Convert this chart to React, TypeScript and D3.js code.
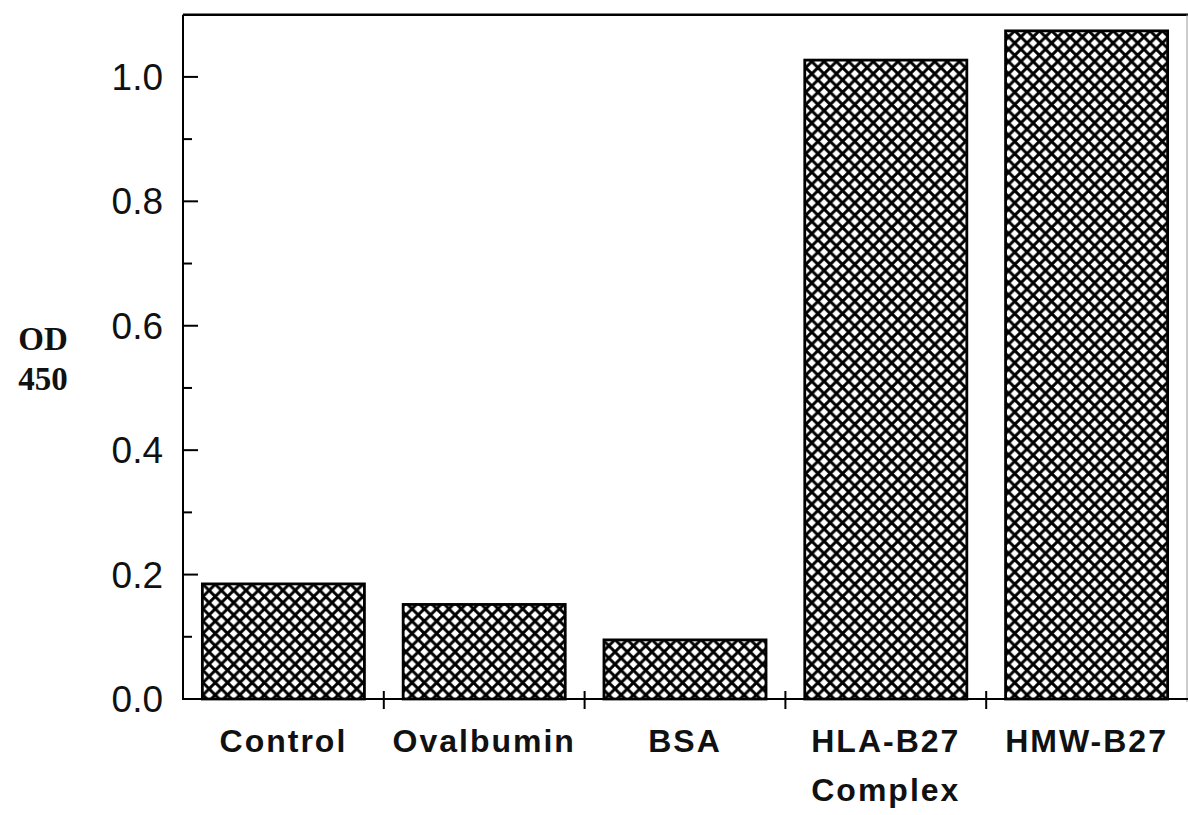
import React from "react";
import * as d3 from "d3";

const categories = ["Control", "Ovalbumin", "BSA", "HLA-B27\nComplex", "HMW-B27"];
const values = [0.185, 0.152, 0.095, 1.027, 1.074];
const majorTicks = [0, 0.2, 0.4, 0.6, 0.8, 1.0];
const minorTicks = [0.1, 0.3, 0.5, 0.7, 0.9];

const W = 1188;
const H = 815;
const left = 183;
const right = 1187;
const top = 14.7;
const bottom = 699;

export default function App() {
  const y = d3.scaleLinear().domain([0, 1.1]).range([bottom, top]);
  const x = d3
    .scaleBand<string>()
    .domain(categories)
    .range([left, right])
    .paddingInner(0.193)
    .paddingOuter(0.0965);
  const step = x.step();
  const boundaries = d3.range(1, categories.length).map((i) => left + i * step);
  const P = 12.3;

  return (
    <svg
      width={W}
      height={H}
      style={{ position: "absolute", left: 0, top: 0, background: "#fff" }}
    >
      <defs>
        <pattern id="hatch" patternUnits="userSpaceOnUse" width={P} height={P}>
          <rect width={P} height={P} fill="#fff" />
          <path
            d={`M-2,-2 L${P + 2},${P + 2} M-2,${P + 2} L${P + 2},-2`}
            stroke="#000"
            strokeWidth={2.9}
            fill="none"
          />
        </pattern>
      </defs>

      {/* frame: top line and right edge */}
      <line x1={left} x2={W} y1={top} y2={top} stroke="#000" strokeWidth={2.5} />
      <line x1={right} x2={right} y1={top} y2={bottom + 3} stroke="#999" strokeWidth={1} />

      {/* bars */}
      {categories.map((c, i) => (
        <rect
          key={c}
          x={x(c)!}
          y={y(values[i])}
          width={x.bandwidth()}
          height={bottom - y(values[i])}
          fill="url(#hatch)"
          stroke="#000"
          strokeWidth={2.8}
        />
      ))}

      <line x1={left} x2={left} y1={top} y2={bottom + 1} stroke="#000" strokeWidth={2} />
      <line x1={left} x2={W} y1={bottom} y2={bottom} stroke="#000" strokeWidth={2} />

      {/* y ticks */}
      {majorTicks.map((t) => (
        <g key={"M" + t}>
          <line x1={left} x2={left + 15} y1={y(t)} y2={y(t)} stroke="#000" strokeWidth={2} />
          <text
            x={163}
            y={y(t) + 13}
            textAnchor="end"
            fontFamily="'Liberation Sans', Arial, sans-serif"
            fontSize={37}
            fill="#111"
          >
            {t.toFixed(1)}
          </text>
        </g>
      ))}
      {minorTicks.map((t) => (
        <line key={"m" + t} x1={left} x2={left + 9} y1={y(t)} y2={y(t)} stroke="#000" strokeWidth={2} />
      ))}

      {/* x category boundary ticks */}
      {boundaries.map((b, i) => (
        <line key={"b" + i} x1={b} x2={b} y1={bottom - 8} y2={bottom + 10} stroke="#000" strokeWidth={2} />
      ))}

      {/* category labels */}
      {categories.map((c) => {
        const lines = c.split("\n");
        const cx = x(c)! + x.bandwidth() / 2;
        return (
          <text
            key={"l" + c}
            x={cx}
            y={752}
            textAnchor="middle"
            fontFamily="'Liberation Sans', Arial, sans-serif"
            fontWeight="bold"
            fontSize={32}
            letterSpacing={2}
            fill="#111"
          >
            {lines.map((ln, k) => (
              <tspan key={k} x={cx} dy={k === 0 ? 0 : 49}>
                {ln}
              </tspan>
            ))}
          </text>
        );
      })}

      {/* y axis title */}
      <text
        x={43}
        y={350}
        textAnchor="middle"
        fontFamily="'Liberation Serif', 'Times New Roman', serif"
        fontWeight="bold"
        fontSize={33}
        fill="#111"
      >
        <tspan x={43}>OD</tspan>
        <tspan x={43} dy={40}>450</tspan>
      </text>
    </svg>
  );
}
